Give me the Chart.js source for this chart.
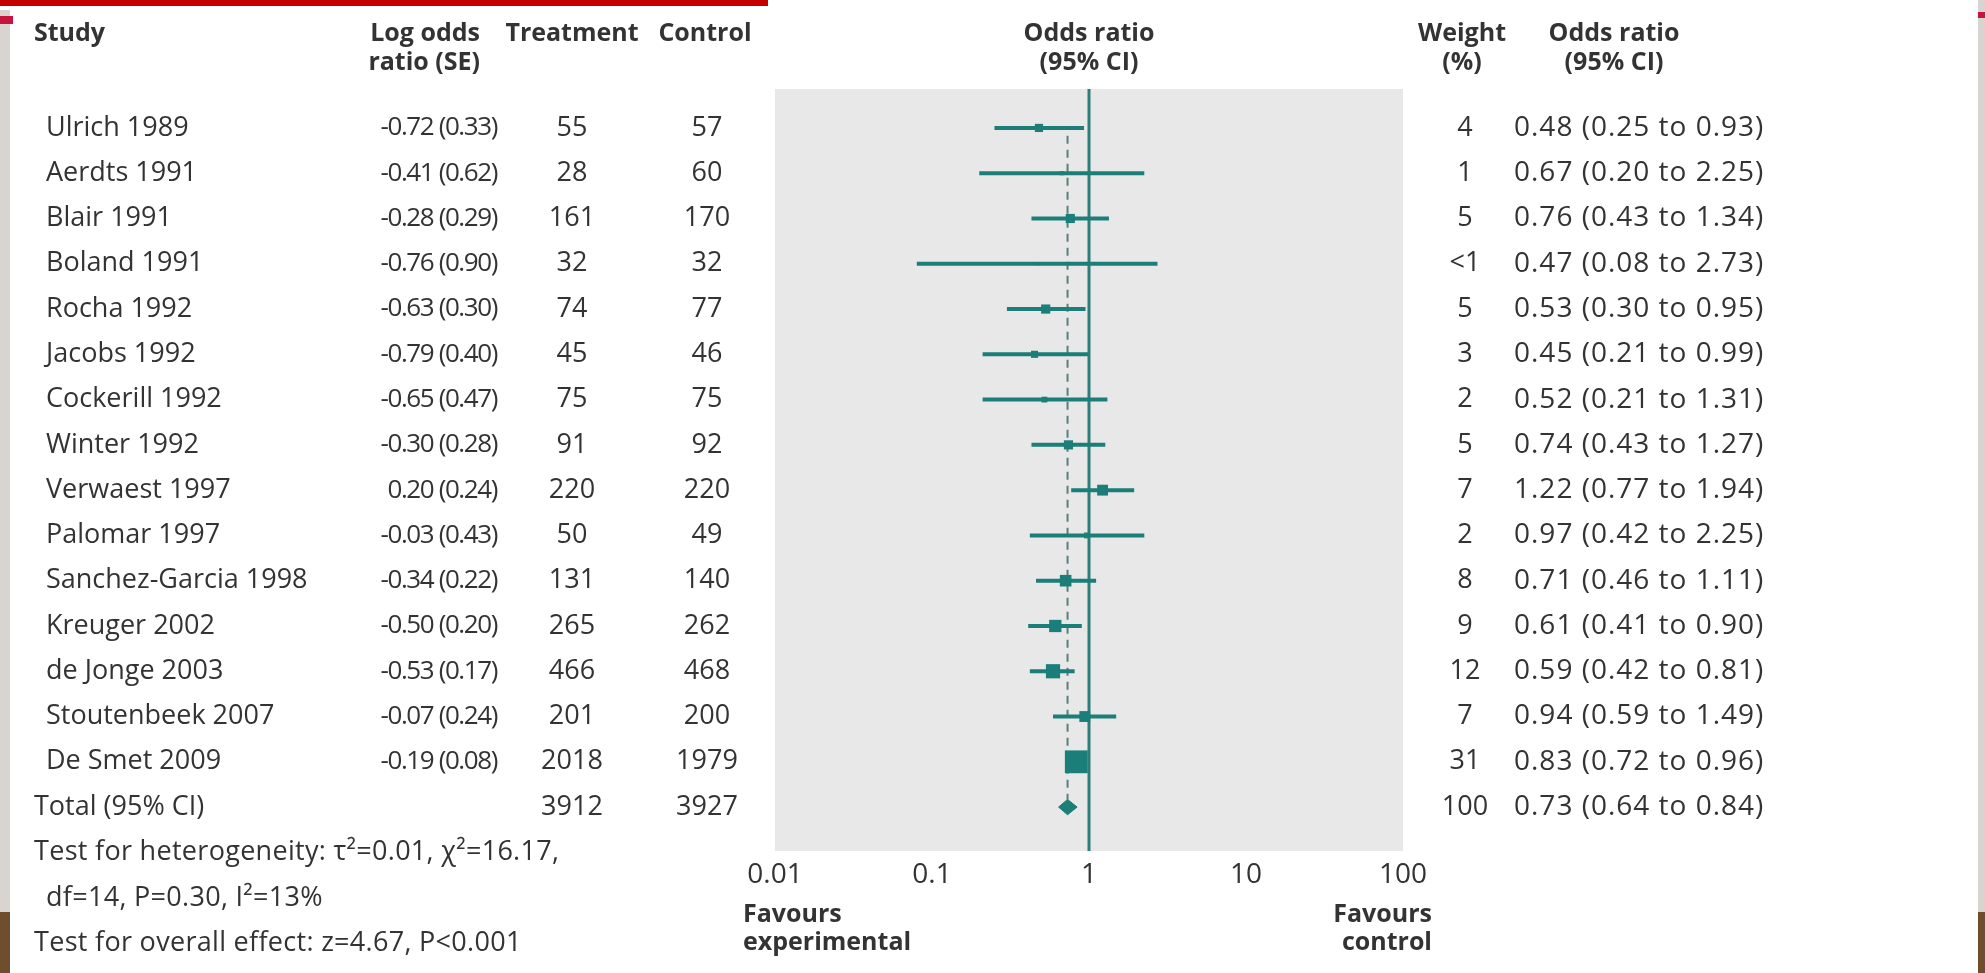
<!DOCTYPE html>
<html>
<head>
<meta charset="utf-8">
<script src="https://cdn.jsdelivr.net/npm/chart.js@4.4.1/dist/chart.umd.min.js"></script>
<style>
  html, body { margin: 0; padding: 0; background: #fff; }
  #wrap { width: 1985px; height: 973px; }
</style>
</head>
<body>
<div id="wrap"><canvas id="forest" width="1985" height="973"></canvas></div>
<script>
// --- data ---
const studies = ['Ulrich 1989', 'Aerdts 1991', 'Blair 1991', 'Boland 1991', 'Rocha 1992',
    'Jacobs 1992', 'Cockerill 1992', 'Winter 1992', 'Verwaest 1997', 'Palomar 1997',
    'Sanchez-Garcia 1998', 'Kreuger 2002', 'de Jonge 2003', 'Stoutenbeek 2007', 'De Smet 2009'];
const logOddsSE = ['-0.72 (0.33)', '-0.41 (0.62)', '-0.28 (0.29)', '-0.76 (0.90)', '-0.63 (0.30)',
    '-0.79 (0.40)', '-0.65 (0.47)', '-0.30 (0.28)', '0.20 (0.24)', '-0.03 (0.43)',
    '-0.34 (0.22)', '-0.50 (0.20)', '-0.53 (0.17)', '-0.07 (0.24)', '-0.19 (0.08)'];
const treatmentN = [55, 28, 161, 32, 74, 45, 75, 91, 220, 50, 131, 265, 466, 201, 2018];
const controlN = [57, 60, 170, 32, 77, 46, 75, 92, 220, 49, 140, 262, 468, 200, 1979];
const weights = [4, 1, 5, 0.5, 5, 3, 2, 5, 7, 2, 8, 9, 12, 7, 31];
const weightLabels = ['4', '1', '5', '<1', '5', '3', '2', '5', '7', '2', '8', '9', '12', '7', '31'];
const oddsRatio = [0.48, 0.67, 0.76, 0.47, 0.53, 0.45, 0.52, 0.74, 1.22, 0.97, 0.71, 0.61, 0.59, 0.94, 0.83];
const ciLow = [0.25, 0.20, 0.43, 0.08, 0.30, 0.21, 0.21, 0.43, 0.77, 0.42, 0.46, 0.41, 0.42, 0.59, 0.72];
const ciHigh = [0.93, 2.25, 1.34, 2.73, 0.95, 0.99, 1.31, 1.27, 1.94, 2.25, 1.11, 0.90, 0.81, 1.49, 0.96];

const totalTreatment = 3912;
const totalControl = 3927;
const totalWeight = 100;
const totalOR = [0.73];
const totalCI = [0.64, 0.84];

const tickValues = [0.01, 0.1, 1, 10, 100];
const tickLabels = ['0.01', '0.1', '1', '10', '100'];

// --- styles ---
const TEAL = '#1b7e78';
const TEXT = '#333333';
const FONT = '"Open Sans", "Noto Sans", sans-serif';
const totalRow = studies.length;

const fmt = v => v.toFixed(2);

// CI segments, one small line dataset per study
const ciSets = studies.map((s, i) => ({
    label: s,
    data: [{ x: ciLow[i], y: i }, { x: ciHigh[i], y: i }],
    showLine: true,
    borderColor: TEAL,
    borderWidth: 4,
    pointRadius: 0,
    order: 3
}));

const chart = new Chart(document.getElementById('forest'), {
    type: 'scatter',
    data: {
        datasets: [
            ...ciSets,
            {
                label: 'estimates',
                data: oddsRatio.map((v, i) => ({ x: v, y: i })),
                pointStyle: 'rect',
                pointRadius: ctx => 2.9 * Math.sqrt(weights[ctx.dataIndex] || 1),
                backgroundColor: TEAL,
                borderWidth: 0,
                order: 1
            },
            {
                label: 'pooled',
                data: [
                    { x: totalCI[0], y: totalRow },
                    { x: totalOR[0], y: totalRow - 0.17 },
                    { x: totalCI[1], y: totalRow },
                    { x: totalOR[0], y: totalRow + 0.17 },
                    { x: totalCI[0], y: totalRow }
                ],
                showLine: true,
                fill: 'shape',
                backgroundColor: TEAL,
                borderColor: TEAL,
                borderWidth: 1,
                pointRadius: 0,
                order: 1
            },
            {
                label: 'no effect',
                data: [{ x: 1, y: -0.9 }, { x: 1, y: 16 }],
                showLine: true,
                borderColor: '#2f7d78',
                borderWidth: 3,
                pointRadius: 0,
                order: 4
            },
            {
                label: 'pooled line',
                data: [{ x: totalOR[0], y: 0.17 }, { x: totalOR[0], y: totalRow - 0.17 }],
                showLine: true,
                borderColor: '#587f7c',
                borderWidth: 2,
                borderDash: [8, 6],
                pointRadius: 0,
                order: 5
            }
        ]
    },
    options: {
        responsive: false,
        animation: false,
        devicePixelRatio: 1,
        layout: { padding: { left: 775, right: 582, top: 89, bottom: 0 } },
        plugins: { legend: { display: false }, tooltip: { enabled: false } },
        scales: {
            x: {
                type: 'logarithmic',
                min: 0.01,
                max: 100,
                grid: { display: false, drawTicks: false },
                border: { display: false },
                afterBuildTicks: s => { s.ticks = tickValues.map(v => ({ value: v })); },
                afterFit: s => { s.height = 122; },
                ticks: {
                    autoSkip: false,
                    maxRotation: 0,
                    padding: 7,
                    color: TEXT,
                    font: { family: FONT, size: 28 },
                    callback: (v, i) => tickLabels[i]
                }
            },
            y: {
                type: 'linear',
                reverse: true,
                min: -0.86,
                max: 15.97,
                display: false
            }
        }
    },
    plugins: [{
        id: 'forestTable',
        beforeDraw(c) {
            const ctx = c.ctx, a = c.chartArea;
            ctx.save();
            ctx.fillStyle = '#fff';
            ctx.fillRect(0, 0, c.width, c.height);
            // slide frame bits
            ctx.fillStyle = '#c40000';
            ctx.fillRect(0, 0, 768, 6);
            ctx.fillStyle = '#d8d5d0';
            ctx.fillRect(0, 10, 10, 902);
            ctx.fillRect(1978, 0, 7, 912);
            ctx.fillStyle = '#c8143c';
            ctx.fillRect(0, 16, 13, 8);
            ctx.fillRect(1978, 12, 7, 6);
            ctx.fillStyle = '#6e4e2c';
            ctx.fillRect(0, 912, 10, 61);
            ctx.fillRect(1978, 912, 7, 61);
            // plot panel
            ctx.fillStyle = '#e8e8e8';
            ctx.fillRect(a.left, a.top, a.right - a.left, a.bottom - a.top);
            ctx.restore();
        },
        afterDraw(c) {
            const ctx = c.ctx, y = c.scales.y, x = c.scales.x;
            const text = (t, px, py, align, opt = {}) => {
                ctx.font = (opt.bold ? 'bold ' : '') + (opt.size || 27) + 'px ' + FONT;
                ctx.letterSpacing = (opt.spacing || 0) + 'px';
                ctx.textAlign = align;
                ctx.fillText(t, px, py);
            };
            const B = { bold: true, size: 25 };
            ctx.save();
            ctx.fillStyle = TEXT;
            ctx.textBaseline = 'middle';

            // headers
            const h1 = 34, h2 = 63;
            text('Study', 34, h1, 'left', B);
            text('Log odds', 480, h1, 'right', B);
            text('ratio (SE)', 480, h2, 'right', B);
            text('Treatment', 572, h1, 'center', B);
            text('Control', 705, h1, 'center', B);
            const cx = x.getPixelForValue(1);
            text('Odds ratio', cx, h1, 'center', B);
            text('(95% CI)', cx, h2, 'center', B);
            text('Weight', 1462, h1, 'center', B);
            text('(%)', 1462, h2, 'center', B);
            text('Odds ratio', 1614, h1, 'center', B);
            text('(95% CI)', 1614, h2, 'center', B);

            // study rows
            const orOpt = { size: 28, spacing: 1 };
            const seOpt = { size: 26, spacing: -1.4 };
            studies.forEach((s, i) => {
                const py = y.getPixelForValue(i);
                text(s, 46, py, 'left');
                text(logOddsSE[i], 497, py, 'right', seOpt);
                text(String(treatmentN[i]), 572, py, 'center');
                text(String(controlN[i]), 707, py, 'center');
                text(weightLabels[i], 1465, py, 'center');
                text(fmt(oddsRatio[i]) + ' (' + fmt(ciLow[i]) + ' to ' + fmt(ciHigh[i]) + ')', 1514, py, 'left', orOpt);
            });

            // total row
            const ty = y.getPixelForValue(totalRow);
            text('Total (95% CI)', 34, ty, 'left');
            text(String(totalTreatment), 572, ty, 'center');
            text(String(totalControl), 707, ty, 'center');
            text(String(totalWeight), 1465, ty, 'center');
            text(fmt(totalOR[0]) + ' (' + fmt(totalCI[0]) + ' to ' + fmt(totalCI[1]) + ')', 1514, ty, 'left', orOpt);

            // footnotes
            const F = { size: 27, spacing: 0.3 };
            text('Test for heterogeneity: \u03c4\u00b2=0.01, \u03c7\u00b2=16.17,', 34, 852, 'left', F);
            text('df=14, P=0.30, I\u00b2=13%', 46, 898, 'left', F);
            text('Test for overall effect: z=4.67, P<0.001', 34, 943, 'left', F);

            // axis captions
            text('Favours', 743, 915, 'left', B);
            text('experimental', 743, 943, 'left', B);
            text('Favours', 1432, 915, 'right', B);
            text('control', 1432, 943, 'right', B);
            ctx.restore();
        }
    }]
});
</script>
</body>
</html>
